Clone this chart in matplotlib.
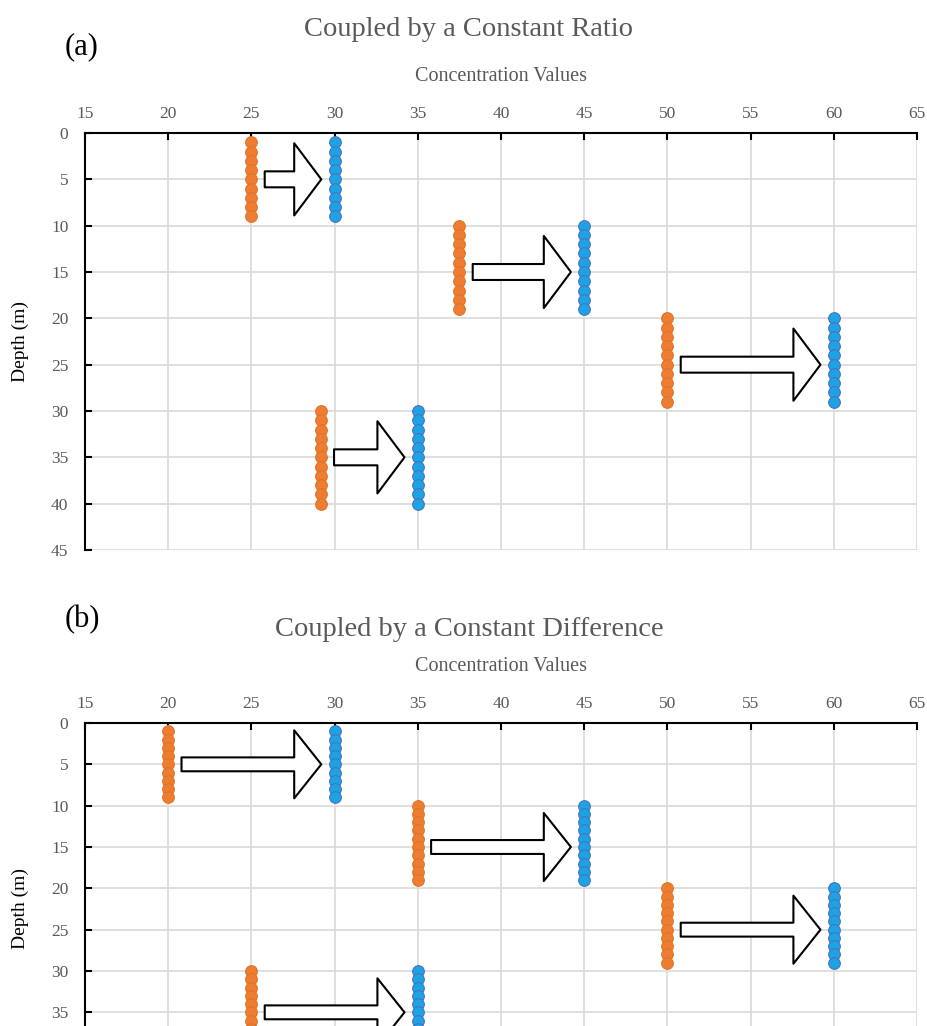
import matplotlib.pyplot as plt
from matplotlib.patches import FancyArrowPatch
import numpy as np

plt.rcParams['font.family'] = ['Liberation Serif', 'DejaVu Serif']

# 数据：每组的起始浓度（橙色）、耦合后浓度（蓝色）、深度范围
ratio_orange = [25, 37.5, 50, 35 / 1.2]
ratio_blue = [30, 45, 60, 35]
diff_orange = [20, 35, 50, 25]
diff_blue = [30, 45, 60, 35]
depth_groups = [(1, 9), (10, 19), (20, 29), (30, 40)]

x_ticks = [15, 20, 25, 30, 35, 40, 45, 50, 55, 60, 65]
y_ticks_a = [0, 5, 10, 15, 20, 25, 30, 35, 40, 45]
y_ticks_b = [0, 5, 10, 15, 20, 25, 30, 35]

gray = '#595959'
orange = '#ED7D31'
blue = '#1CA3E3'

fig = plt.figure(figsize=(9.27, 10.26), dpi=100)


def draw_panel(ax, orange_x, blue_x, y_ticks, title, tag, title_y, tag_y, head_w, tail_w):
    ax.set_xlim(15, 65)
    ax.set_ylim(45, 0)
    ax.xaxis.tick_top()
    ax.xaxis.set_label_position('top')
    ax.set_xticks(x_ticks)
    ax.set_yticks(y_ticks)
    ax.tick_params(direction='in', length=5, width=1.5, colors='black',
                   labelcolor=gray, labelsize=12.5)
    ax.tick_params(axis='x', pad=8)
    ax.tick_params(axis='y', pad=12)
    ax.grid(True, color='#D9D9D9', lw=1.2, zorder=0)
    ax.set_axisbelow(True)
    for s in ['right', 'bottom']:
        ax.spines[s].set_visible(False)
    for s in ['top', 'left']:
        ax.spines[s].set_linewidth(1.5)
    ax.set_xlabel('Concentration Values', color=gray, fontsize=14.5, labelpad=18)
    ax.set_ylabel('Depth (m)', color='black', fontsize=14, labelpad=16)

    for (d0, d1), ox, bx in zip(depth_groups, orange_x, blue_x):
        d = np.arange(d0, d1 + 1)
        ax.plot([ox] * len(d), d, 'o', color=orange, mec='#E07328', ms=8.4,
                mew=0.8, zorder=3, clip_on=False)
        ax.plot([bx] * len(d), d, 'o', color=blue, mec='#4A72C4', ms=8.4,
                mew=0.8, zorder=3, clip_on=False)
        # 箭头放在每组中间的深度（5 的倍数）
        mid = 5 * round(((d0 + d1) / 2 if d1 - d0 < 10 else 35) / 5)
        arr = FancyArrowPatch((ox + 0.8, mid), (bx - 0.8, mid),
                              arrowstyle='simple,head_length=19.5,head_width=%s,tail_width=%s' % (head_w, tail_w),
                              mutation_scale=1, shrinkA=0, shrinkB=0,
                              fc='white', ec='black', lw=1.5, zorder=4)
        ax.add_patch(arr)

    fig.text(469 / 927, title_y, title, ha='center', va='center',
             color=gray, fontsize=20.5)
    fig.text(65 / 927, tag_y, tag, ha='left', va='center', color='black',
             fontsize=22)


ax1 = fig.add_axes([85 / 927, 1 - 550 / 1026, 832 / 927, 417 / 1026])
draw_panel(ax1, ratio_orange, ratio_blue, y_ticks_a, 'Coupled by a Constant Ratio', '(a)',
           1 - 30 / 1026, 1 - 47 / 1026, 52, 11.5)

ax2 = fig.add_axes([85 / 927, 1 - 1095 / 1026, 832 / 927, 372 / 1026])
draw_panel(ax2, diff_orange, diff_blue, y_ticks_b, 'Coupled by a Constant Difference', '(b)',
           1 - 630 / 1026, 1 - 620 / 1026, 49, 10)

fig.savefig('out.png', dpi=100)
